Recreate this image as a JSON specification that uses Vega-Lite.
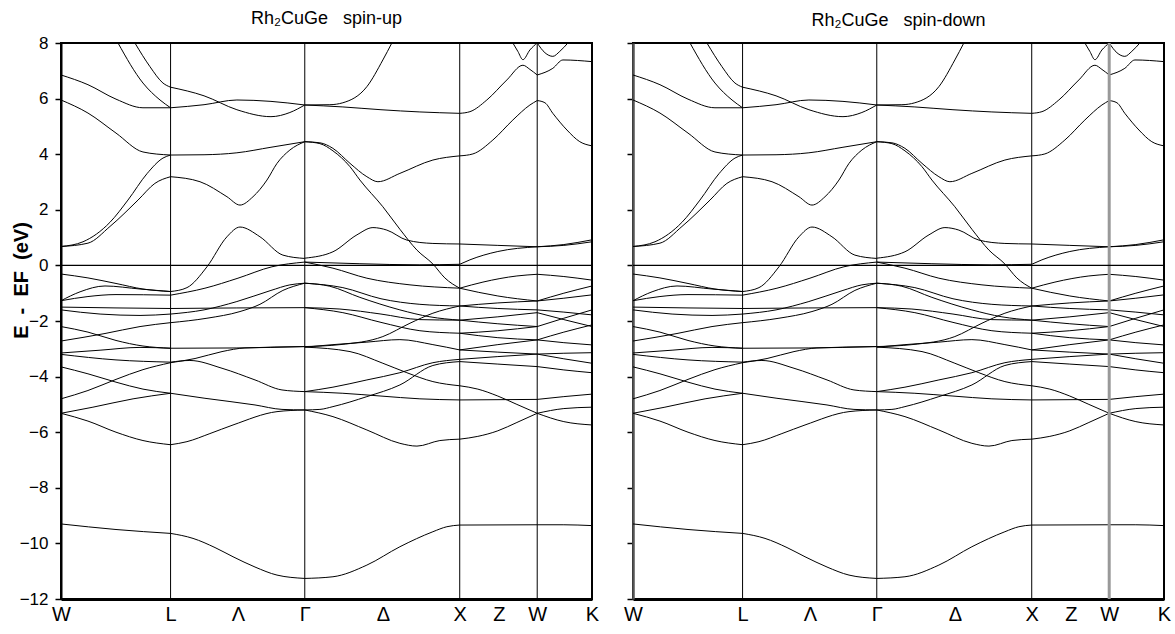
{
"$schema": "https://vega.github.io/schema/vega-lite/v6.json",
"padding": {"left": 10, "top": 9, "right": 5, "bottom": 1},
"spacing": 22,
"config": {"font": "Liberation Sans", "view": {"stroke": "black", "strokeWidth": 2}, "axis": {"domainColor": "black", "tickColor": "black", "labelColor": "black", "titleColor": "black", "grid": false}},
"datasets": {
"sym": [{"k": 0.7071}, {"k": 1.5731}, {"k": 2.5731}, {"k": 3.0731}],
"bands": [
{"band":"a1","k":0,"E":6.85},{"band":"a1","k":0.174,"E":6.5},{"band":"a1","k":0.355,"E":5.98},{"band":"a1","k":0.529,"E":5.67},{"band":"a1","k":0.7071,"E":5.67},
{"band":"a2","k":0,"E":5.95},{"band":"a2","k":0.174,"E":5.48},{"band":"a2","k":0.355,"E":4.76},{"band":"a2","k":0.529,"E":4.08},{"band":"a2","k":0.7071,"E":3.97},
{"band":"a3","k":0.368,"E":8.0},{"band":"a3","k":0.529,"E":6.56},{"band":"a3","k":0.639,"E":5.95},{"band":"a3","k":0.7071,"E":5.67},
{"band":"a4","k":0.477,"E":8.0},{"band":"a4","k":0.574,"E":7.15},{"band":"a4","k":0.658,"E":6.56},{"band":"a4","k":0.7071,"E":6.41},
{"band":"a5","k":0,"E":0.68},{"band":"a5","k":0.142,"E":0.85},{"band":"a5","k":0.316,"E":1.55},{"band":"a5","k":0.432,"E":2.35},{"band":"a5","k":0.555,"E":3.3},{"band":"a5","k":0.658,"E":3.86},{"band":"a5","k":0.7071,"E":3.97},
{"band":"a6","k":0,"E":0.68},{"band":"a6","k":0.174,"E":0.8},{"band":"a6","k":0.316,"E":1.4},{"band":"a6","k":0.497,"E":2.35},{"band":"a6","k":0.606,"E":2.95},{"band":"a6","k":0.7071,"E":3.19},
{"band":"a7","k":0,"E":-0.31},{"band":"a7","k":0.174,"E":-0.45},{"band":"a7","k":0.355,"E":-0.65},{"band":"a7","k":0.529,"E":-0.85},{"band":"a7","k":0.7071,"E":-0.94},
{"band":"a8","k":0,"E":-1.27},{"band":"a8","k":0.123,"E":-0.95},{"band":"a8","k":0.284,"E":-0.74},{"band":"a8","k":0.51,"E":-0.85},{"band":"a8","k":0.7071,"E":-0.94},
{"band":"a9","k":0,"E":-1.27},{"band":"a9","k":0.174,"E":-1.12},{"band":"a9","k":0.355,"E":-1.05},{"band":"a9","k":0.7071,"E":-1.07},
{"band":"a10","k":0,"E":-1.5},{"band":"a10","k":0.355,"E":-1.53},{"band":"a10","k":0.7071,"E":-1.55},
{"band":"a11","k":0,"E":-1.6},{"band":"a11","k":0.252,"E":-1.75},{"band":"a11","k":0.51,"E":-1.8},{"band":"a11","k":0.7071,"E":-1.75},
{"band":"a12","k":0,"E":-2.2},{"band":"a12","k":0.174,"E":-2.4},{"band":"a12","k":0.355,"E":-2.7},{"band":"a12","k":0.529,"E":-2.9},{"band":"a12","k":0.7071,"E":-2.98},
{"band":"a13","k":0,"E":-2.72},{"band":"a13","k":0.284,"E":-2.45},{"band":"a13","k":0.51,"E":-2.2},{"band":"a13","k":0.7071,"E":-2.06},
{"band":"a14","k":0,"E":-3.15},{"band":"a14","k":0.252,"E":-3.05},{"band":"a14","k":0.51,"E":-2.95},{"band":"a14","k":0.7071,"E":-2.98},
{"band":"a15","k":0,"E":-3.2},{"band":"a15","k":0.355,"E":-3.4},{"band":"a15","k":0.7071,"E":-3.48},
{"band":"a16","k":0,"E":-3.65},{"band":"a16","k":0.174,"E":-3.9},{"band":"a16","k":0.355,"E":-4.2},{"band":"a16","k":0.529,"E":-4.45},{"band":"a16","k":0.7071,"E":-4.6},
{"band":"a17","k":0,"E":-4.8},{"band":"a17","k":0.174,"E":-4.5},{"band":"a17","k":0.355,"E":-4.1},{"band":"a17","k":0.529,"E":-3.75},{"band":"a17","k":0.7071,"E":-3.5},
{"band":"a18","k":0,"E":-5.32},{"band":"a18","k":0.206,"E":-5.1},{"band":"a18","k":0.465,"E":-4.8},{"band":"a18","k":0.7071,"E":-4.6},
{"band":"a19","k":0,"E":-5.32},{"band":"a19","k":0.174,"E":-5.6},{"band":"a19","k":0.355,"E":-6.0},{"band":"a19","k":0.529,"E":-6.3},{"band":"a19","k":0.7071,"E":-6.45},
{"band":"a20","k":0,"E":-9.3},{"band":"a20","k":0.355,"E":-9.5},{"band":"a20","k":0.7071,"E":-9.64},
{"band":"b1","k":0.7071,"E":5.67},{"band":"b1","k":0.923,"E":5.78},{"band":"b1","k":1.135,"E":5.95},{"band":"b1","k":1.355,"E":5.9},{"band":"b1","k":1.5731,"E":5.77},
{"band":"b2","k":0.7071,"E":6.41},{"band":"b2","k":0.923,"E":6.1},{"band":"b2","k":1.135,"E":5.6},{"band":"b2","k":1.355,"E":5.35},{"band":"b2","k":1.477,"E":5.5},{"band":"b2","k":1.5731,"E":5.77},
{"band":"b3","k":0.7071,"E":3.97},{"band":"b3","k":0.923,"E":3.98},{"band":"b3","k":1.135,"E":4.05},{"band":"b3","k":1.355,"E":4.25},{"band":"b3","k":1.5731,"E":4.45},
{"band":"b4","k":0.7071,"E":3.19},{"band":"b4","k":0.897,"E":3.01},{"band":"b4","k":1.071,"E":2.47},{"band":"b4","k":1.155,"E":2.17},{"band":"b4","k":1.239,"E":2.47},{"band":"b4","k":1.329,"E":3.07},{"band":"b4","k":1.394,"E":3.67},{"band":"b4","k":1.477,"E":4.15},{"band":"b4","k":1.5731,"E":4.45},
{"band":"b5","k":0.7071,"E":-0.94},{"band":"b5","k":0.813,"E":-0.8},{"band":"b5","k":0.942,"E":-0.05},{"band":"b5","k":1.071,"E":1.03},{"band":"b5","k":1.155,"E":1.38},{"band":"b5","k":1.284,"E":1.03},{"band":"b5","k":1.432,"E":0.37},{"band":"b5","k":1.5731,"E":0.25},
{"band":"b6","k":0.7071,"E":-1.07},{"band":"b6","k":0.929,"E":-0.82},{"band":"b6","k":1.142,"E":-0.46},{"band":"b6","k":1.361,"E":-0.05},{"band":"b6","k":1.5731,"E":0.12},
{"band":"b7","k":0.7071,"E":-1.55},{"band":"b7","k":1.135,"E":-1.53},{"band":"b7","k":1.5731,"E":-1.52},
{"band":"b8","k":0.7071,"E":-1.75},{"band":"b8","k":0.923,"E":-1.6},{"band":"b8","k":1.135,"E":-1.3},{"band":"b8","k":1.355,"E":-0.9},{"band":"b8","k":1.477,"E":-0.7},{"band":"b8","k":1.5731,"E":-0.64},
{"band":"b9","k":0.7071,"E":-2.06},{"band":"b9","k":0.942,"E":-1.9},{"band":"b9","k":1.155,"E":-1.66},{"band":"b9","k":1.284,"E":-1.4},{"band":"b9","k":1.432,"E":-0.9},{"band":"b9","k":1.5731,"E":-0.64},
{"band":"b10","k":0.7071,"E":-2.98},{"band":"b10","k":1.135,"E":-2.97},{"band":"b10","k":1.5731,"E":-2.92},
{"band":"b11","k":0.7071,"E":-3.48},{"band":"b11","k":0.832,"E":-3.42},{"band":"b11","k":1.039,"E":-3.7},{"band":"b11","k":1.252,"E":-4.12},{"band":"b11","k":1.426,"E":-4.48},{"band":"b11","k":1.5731,"E":-4.54},
{"band":"b12","k":0.7071,"E":-3.5},{"band":"b12","k":0.865,"E":-3.35},{"band":"b12","k":1.039,"E":-3.1},{"band":"b12","k":1.187,"E":-2.97},{"band":"b12","k":1.5731,"E":-2.92},
{"band":"b13","k":0.7071,"E":-4.6},{"band":"b13","k":0.929,"E":-4.78},{"band":"b13","k":1.252,"E":-5.02},{"band":"b13","k":1.426,"E":-5.18},{"band":"b13","k":1.5731,"E":-5.2},
{"band":"b14","k":0.7071,"E":-6.45},{"band":"b14","k":0.813,"E":-6.34},{"band":"b14","k":0.961,"E":-6.05},{"band":"b14","k":1.11,"E":-5.74},{"band":"b14","k":1.394,"E":-5.26},{"band":"b14","k":1.5731,"E":-5.2},
{"band":"b15","k":0.7071,"E":-9.64},{"band":"b15","k":0.852,"E":-9.82},{"band":"b15","k":0.994,"E":-10.15},{"band":"b15","k":1.11,"E":-10.48},{"band":"b15","k":1.252,"E":-10.85},{"band":"b15","k":1.394,"E":-11.14},{"band":"b15","k":1.5731,"E":-11.26},
{"band":"c1","k":1.5731,"E":5.77},{"band":"c1","k":1.735,"E":5.78},{"band":"c1","k":1.819,"E":5.85},{"band":"c1","k":1.974,"E":6.43},{"band":"c1","k":2.077,"E":7.39},{"band":"c1","k":2.135,"E":8.0},
{"band":"c2","k":1.5731,"E":5.77},{"band":"c2","k":1.819,"E":5.7},{"band":"c2","k":2.065,"E":5.6},{"band":"c2","k":2.316,"E":5.52},{"band":"c2","k":2.5731,"E":5.47},
{"band":"c3","k":1.5731,"E":4.45},{"band":"c3","k":1.671,"E":4.41},{"band":"c3","k":1.755,"E":4.21},{"band":"c3","k":1.865,"E":3.67},{"band":"c3","k":1.974,"E":3.19},{"band":"c3","k":2.045,"E":3.01},{"band":"c3","k":2.187,"E":3.31},{"band":"c3","k":2.4,"E":3.79},{"band":"c3","k":2.5731,"E":3.94},
{"band":"c4","k":1.5731,"E":4.45},{"band":"c4","k":1.671,"E":4.38},{"band":"c4","k":1.755,"E":4.12},{"band":"c4","k":1.865,"E":3.55},{"band":"c4","k":1.929,"E":3.07},{"band":"c4","k":2.077,"E":2.11},{"band":"c4","k":2.187,"E":1.3},{"band":"c4","k":2.297,"E":0.55},{"band":"c4","k":2.4,"E":0.05},{"band":"c4","k":2.477,"E":-0.45},{"band":"c4","k":2.5731,"E":-0.82},
{"band":"c5","k":1.5731,"E":0.26},{"band":"c5","k":1.755,"E":0.49},{"band":"c5","k":1.91,"E":1.1},{"band":"c5","k":2.013,"E":1.36},{"band":"c5","k":2.103,"E":1.27},{"band":"c5","k":2.232,"E":0.91},{"band":"c5","k":2.4,"E":0.79},{"band":"c5","k":2.5731,"E":0.77},
{"band":"c6","k":1.5731,"E":0.12},{"band":"c6","k":1.929,"E":0.06},{"band":"c6","k":2.316,"E":0.02},{"band":"c6","k":2.5731,"E":0.04},
{"band":"c7","k":1.5731,"E":0.12},{"band":"c7","k":1.755,"E":-0.1},{"band":"c7","k":1.974,"E":-0.46},{"band":"c7","k":2.252,"E":-0.7},{"band":"c7","k":2.5731,"E":-0.82},
{"band":"c8","k":1.5731,"E":-0.64},{"band":"c8","k":1.819,"E":-0.8},{"band":"c8","k":2.065,"E":-1.2},{"band":"c8","k":2.316,"E":-1.4},{"band":"c8","k":2.5731,"E":-1.46},
{"band":"c9","k":1.5731,"E":-0.64},{"band":"c9","k":1.735,"E":-0.75},{"band":"c9","k":1.929,"E":-1.15},{"band":"c9","k":2.187,"E":-1.6},{"band":"c9","k":2.381,"E":-1.85},{"band":"c9","k":2.5731,"E":-1.97},
{"band":"c10","k":1.5731,"E":-1.52},{"band":"c10","k":1.8,"E":-1.57},{"band":"c10","k":2.065,"E":-1.75},{"band":"c10","k":2.316,"E":-1.95},{"band":"c10","k":2.5731,"E":-1.97},
{"band":"c11","k":1.5731,"E":-1.52},{"band":"c11","k":1.819,"E":-1.7},{"band":"c11","k":2.065,"E":-2.05},{"band":"c11","k":2.316,"E":-2.35},{"band":"c11","k":2.5731,"E":-2.44},
{"band":"c12","k":1.5731,"E":-2.92},{"band":"c12","k":1.8,"E":-2.85},{"band":"c12","k":2.077,"E":-2.56},{"band":"c12","k":2.252,"E":-2.08},{"band":"c12","k":2.4,"E":-1.72},{"band":"c12","k":2.5731,"E":-1.46},
{"band":"c13","k":1.5731,"E":-2.94},{"band":"c13","k":1.755,"E":-2.85},{"band":"c13","k":1.974,"E":-2.76},{"band":"c13","k":2.187,"E":-2.67},{"band":"c13","k":2.4,"E":-2.85},{"band":"c13","k":2.5731,"E":-3.04},
{"band":"c14","k":1.5731,"E":-2.94},{"band":"c14","k":1.865,"E":-3.1},{"band":"c14","k":2.077,"E":-3.52},{"band":"c14","k":2.232,"E":-3.86},{"band":"c14","k":2.4,"E":-4.18},{"band":"c14","k":2.5731,"E":-4.33},
{"band":"c15","k":1.5731,"E":-4.54},{"band":"c15","k":1.755,"E":-4.38},{"band":"c15","k":1.974,"E":-4.12},{"band":"c15","k":2.187,"E":-3.86},{"band":"c15","k":2.4,"E":-3.5},{"band":"c15","k":2.5731,"E":-3.38},
{"band":"c16","k":1.5731,"E":-5.2},{"band":"c16","k":1.671,"E":-5.18},{"band":"c16","k":1.755,"E":-5.08},{"band":"c16","k":1.974,"E":-4.72},{"band":"c16","k":2.187,"E":-4.3},{"band":"c16","k":2.4,"E":-3.6},{"band":"c16","k":2.5731,"E":-3.46},
{"band":"c17","k":1.5731,"E":-5.2},{"band":"c17","k":1.755,"E":-5.44},{"band":"c17","k":1.974,"E":-5.92},{"band":"c17","k":2.187,"E":-6.4},{"band":"c17","k":2.297,"E":-6.5},{"band":"c17","k":2.445,"E":-6.3},{"band":"c17","k":2.5731,"E":-6.25},
{"band":"c18","k":1.5731,"E":-4.54},{"band":"c18","k":1.819,"E":-4.6},{"band":"c18","k":2.065,"E":-4.7},{"band":"c18","k":2.316,"E":-4.8},{"band":"c18","k":2.5731,"E":-4.84},
{"band":"c19","k":1.5731,"E":-11.26},{"band":"c19","k":1.755,"E":-11.2},{"band":"c19","k":1.974,"E":-10.78},{"band":"c19","k":2.187,"E":-10.12},{"band":"c19","k":2.4,"E":-9.58},{"band":"c19","k":2.49,"E":-9.4},{"band":"c19","k":2.5731,"E":-9.34},
{"band":"d1","k":2.5731,"E":5.47},{"band":"d1","k":2.639,"E":5.53},{"band":"d1","k":2.748,"E":5.95},{"band":"d1","k":2.877,"E":6.67},{"band":"d1","k":2.981,"E":7.2},{"band":"d1","k":3.026,"E":7.05},{"band":"d1","k":3.0731,"E":6.85},
{"band":"d2","k":2.916,"E":8.0},{"band":"d2","k":2.948,"E":7.7},{"band":"d2","k":2.981,"E":7.4},{"band":"d2","k":3.026,"E":7.75},{"band":"d2","k":3.0731,"E":8.0},
{"band":"d3","k":2.5731,"E":3.94},{"band":"d3","k":2.658,"E":4.01},{"band":"d3","k":2.787,"E":4.51},{"band":"d3","k":2.916,"E":5.23},{"band":"d3","k":3.026,"E":5.77},{"band":"d3","k":3.0731,"E":5.93},
{"band":"d4","k":2.5731,"E":0.77},{"band":"d4","k":2.819,"E":0.72},{"band":"d4","k":3.0731,"E":0.67},
{"band":"d5","k":2.5731,"E":0.04},{"band":"d5","k":2.639,"E":0.2},{"band":"d5","k":2.819,"E":0.5},{"band":"d5","k":3.0731,"E":0.67},
{"band":"d6","k":2.5731,"E":-0.82},{"band":"d6","k":2.723,"E":-0.6},{"band":"d6","k":2.942,"E":-0.38},{"band":"d6","k":3.0731,"E":-0.32},
{"band":"d7","k":2.5731,"E":-0.82},{"band":"d7","k":2.819,"E":-1.1},{"band":"d7","k":3.0731,"E":-1.28},
{"band":"d8","k":2.5731,"E":-1.46},{"band":"d8","k":2.819,"E":-1.35},{"band":"d8","k":3.0731,"E":-1.28},
{"band":"d9","k":2.5731,"E":-1.46},{"band":"d9","k":2.819,"E":-1.55},{"band":"d9","k":3.0731,"E":-1.6},
{"band":"d10","k":2.5731,"E":-1.97},{"band":"d10","k":2.819,"E":-1.85},{"band":"d10","k":3.0731,"E":-1.7},
{"band":"d11","k":2.5731,"E":-1.97},{"band":"d11","k":2.819,"E":-2.1},{"band":"d11","k":3.0731,"E":-2.2},
{"band":"d12","k":2.5731,"E":-2.44},{"band":"d12","k":2.819,"E":-2.35},{"band":"d12","k":3.0731,"E":-2.2},
{"band":"d13","k":2.5731,"E":-2.44},{"band":"d13","k":2.819,"E":-2.6},{"band":"d13","k":3.0731,"E":-2.68},
{"band":"d14","k":2.5731,"E":-3.04},{"band":"d14","k":2.819,"E":-2.85},{"band":"d14","k":3.0731,"E":-2.68},
{"band":"d15","k":2.5731,"E":-3.04},{"band":"d15","k":2.819,"E":-3.12},{"band":"d15","k":3.0731,"E":-3.19},
{"band":"d16","k":2.5731,"E":-3.38},{"band":"d16","k":2.819,"E":-3.28},{"band":"d16","k":3.0731,"E":-3.19},
{"band":"d17","k":2.5731,"E":-3.46},{"band":"d17","k":2.819,"E":-3.55},{"band":"d17","k":3.0731,"E":-3.64},
{"band":"d18","k":2.5731,"E":-4.33},{"band":"d18","k":2.69,"E":-4.45},{"band":"d18","k":2.819,"E":-4.7},{"band":"d18","k":2.942,"E":-5.0},{"band":"d18","k":3.0731,"E":-5.32},
{"band":"d19","k":2.5731,"E":-4.84},{"band":"d19","k":3.0731,"E":-4.82},
{"band":"d20","k":2.5731,"E":-6.25},{"band":"d20","k":2.69,"E":-6.15},{"band":"d20","k":2.819,"E":-5.95},{"band":"d20","k":2.942,"E":-5.65},{"band":"d20","k":3.0731,"E":-5.32},
{"band":"d21","k":2.5731,"E":-9.34},{"band":"d21","k":3.0731,"E":-9.33},
{"band":"e1","k":3.0731,"E":8.0},{"band":"e1","k":3.123,"E":7.65},{"band":"e1","k":3.174,"E":7.52},{"band":"e1","k":3.219,"E":7.7},{"band":"e1","k":3.271,"E":8.0},
{"band":"e2","k":3.0731,"E":6.85},{"band":"e2","k":3.174,"E":7.09},{"band":"e2","k":3.239,"E":7.39},{"band":"e2","k":3.4267,"E":7.33},
{"band":"e3","k":3.0731,"E":5.93},{"band":"e3","k":3.123,"E":5.85},{"band":"e3","k":3.174,"E":5.47},{"band":"e3","k":3.265,"E":4.87},{"band":"e3","k":3.348,"E":4.45},{"band":"e3","k":3.4267,"E":4.3},
{"band":"e4","k":3.0731,"E":0.67},{"band":"e4","k":3.245,"E":0.75},{"band":"e4","k":3.4267,"E":0.92},
{"band":"e5","k":3.0731,"E":0.67},{"band":"e5","k":3.245,"E":0.72},{"band":"e5","k":3.4267,"E":0.85},
{"band":"e6","k":3.0731,"E":-0.32},{"band":"e6","k":3.245,"E":-0.4},{"band":"e6","k":3.4267,"E":-0.53},
{"band":"e7","k":3.0731,"E":-1.28},{"band":"e7","k":3.245,"E":-1.0},{"band":"e7","k":3.4267,"E":-0.74},
{"band":"e8","k":3.0731,"E":-1.28},{"band":"e8","k":3.245,"E":-1.18},{"band":"e8","k":3.4267,"E":-1.06},
{"band":"e9","k":3.0731,"E":-1.6},{"band":"e9","k":3.245,"E":-1.68},{"band":"e9","k":3.4267,"E":-1.78},
{"band":"e10","k":3.0731,"E":-1.7},{"band":"e10","k":3.245,"E":-1.95},{"band":"e10","k":3.4267,"E":-2.2},
{"band":"e11","k":3.0731,"E":-2.2},{"band":"e11","k":3.245,"E":-1.9},{"band":"e11","k":3.4267,"E":-1.6},
{"band":"e12","k":3.0731,"E":-2.68},{"band":"e12","k":3.245,"E":-2.4},{"band":"e12","k":3.4267,"E":-2.14},
{"band":"e13","k":3.0731,"E":-2.68},{"band":"e13","k":3.245,"E":-2.78},{"band":"e13","k":3.4267,"E":-2.86},
{"band":"e14","k":3.0731,"E":-3.19},{"band":"e14","k":3.245,"E":-3.16},{"band":"e14","k":3.4267,"E":-3.14},
{"band":"e15","k":3.0731,"E":-3.19},{"band":"e15","k":3.245,"E":-3.36},{"band":"e15","k":3.4267,"E":-3.52},
{"band":"e16","k":3.0731,"E":-3.64},{"band":"e16","k":3.245,"E":-3.76},{"band":"e16","k":3.4267,"E":-3.86},
{"band":"e17","k":3.0731,"E":-4.82},{"band":"e17","k":3.245,"E":-4.72},{"band":"e17","k":3.4267,"E":-4.63},
{"band":"e18","k":3.0731,"E":-5.32},{"band":"e18","k":3.245,"E":-5.15},{"band":"e18","k":3.4267,"E":-5.1},
{"band":"e19","k":3.0731,"E":-5.32},{"band":"e19","k":3.245,"E":-5.62},{"band":"e19","k":3.4267,"E":-5.74},
{"band":"e20","k":3.0731,"E":-9.33},{"band":"e20","k":3.245,"E":-9.33},{"band":"e20","k":3.4267,"E":-9.36}
]
},
"hconcat": [
{
"width": 531, "height": 556,
"title": {"text": "Rh₂CuGe\u00a0\u00a0\u00a0spin-up", "fontSize": 18, "fontWeight": "normal", "font": "Liberation Sans", "offset": 6},
"layer": [
{"data": {"name": "bands"}, "mark": {"type": "line", "color": "black", "strokeWidth": 1, "interpolate": "monotone", "clip": true},
 "encoding": {
  "x": {"field": "k", "type": "quantitative", "scale": {"domain": [0, 3.4267], "nice": false, "zero": false},
   "axis": {"title": null, "values": [0, 0.7071, 1.142, 1.5731, 2.077, 2.5731, 2.826, 3.0731, 3.4267], "labelExpr": "datum.value < 0.1 ? 'W' : datum.value < 0.8 ? 'L' : datum.value < 1.2 ? 'Λ' : datum.value < 1.6 ? 'Γ' : datum.value < 2.1 ? 'Δ' : datum.value < 2.6 ? 'X' : datum.value < 2.9 ? 'Z' : datum.value < 3.1 ? 'W' : 'K'", "tickSize": 0, "labelPadding": 5, "labelFontSize": 20, "labelFlush": false, "labelOverlap": false, "labelBound": false, "domainWidth": 3}},
  "y": {"field": "E", "type": "quantitative", "scale": {"domain": [-12, 8], "nice": false, "zero": false},
   "axis": {"title": "E\u00a0\u00a0-\u00a0\u00a0EF\u00a0\u00a0(eV)", "titleFontSize": 20, "titleFontWeight": "bold", "titleAngle": -90, "titleX": -40, "titleY": 237, "titleBaseline": "middle", "titleAlign": "center",
    "values": [-12,-11,-10,-9,-8,-7,-6,-5,-4,-3,-2,-1,0,1,2,3,4,5,6,7,8], "labelExpr": "datum.value % 2 === 0 ? datum.label : ''", "labelFontSize": 17, "labelPadding": 7,
    "tickSize": {"condition": {"test": "datum.value % 2 === 0", "value": 6}, "value": 3}, "tickWidth": 1.5, "domainWidth": 2}},
  "detail": {"field": "band"}
 }},
{"data": {"name": "sym"}, "mark": {"type": "rule", "color": "black", "strokeWidth": 1}, "encoding": {"x": {"field": "k", "type": "quantitative"}}},
{"data": {"values": [{"E": 0}]}, "mark": {"type": "rule", "color": "black", "strokeWidth": 1.2}, "encoding": {"y": {"field": "E", "type": "quantitative"}}}
]
},
{
"width": 531, "height": 556,
"title": {"text": "Rh₂CuGe\u00a0\u00a0\u00a0spin-down", "fontSize": 18, "fontWeight": "normal", "font": "Liberation Sans", "offset": 12},
"layer": [
{"data": {"name": "bands"}, "mark": {"type": "line", "color": "black", "strokeWidth": 1, "interpolate": "monotone", "clip": true},
 "encoding": {
  "x": {"field": "k", "type": "quantitative", "scale": {"domain": [0, 3.4267], "nice": false, "zero": false},
   "axis": {"title": null, "values": [0, 0.7071, 1.142, 1.5731, 2.077, 2.5731, 2.826, 3.0731, 3.4267], "labelExpr": "datum.value < 0.1 ? 'W' : datum.value < 0.8 ? 'L' : datum.value < 1.2 ? 'Λ' : datum.value < 1.6 ? 'Γ' : datum.value < 2.1 ? 'Δ' : datum.value < 2.6 ? 'X' : datum.value < 2.9 ? 'Z' : datum.value < 3.1 ? 'W' : 'K'", "tickSize": 0, "labelPadding": 5, "labelFontSize": 20, "labelFlush": false, "labelOverlap": false, "labelBound": false, "domainWidth": 3}},
  "y": {"field": "E", "type": "quantitative", "scale": {"domain": [-12, 8], "nice": false, "zero": false},
   "axis": {"title": null, "values": [-12,-11,-10,-9,-8,-7,-6,-5,-4,-3,-2,-1,0,1,2,3,4,5,6,7,8], "labels": false,
    "tickSize": {"condition": {"test": "datum.value % 2 === 0", "value": 6}, "value": 3}, "tickWidth": 1.5, "domainWidth": 2.5, "domainColor": "#555555"}},
  "detail": {"field": "band"}
 }},
{"data": {"values": [{"k": 0.7071}, {"k": 1.5731}, {"k": 2.5731}]}, "mark": {"type": "rule", "color": "black", "strokeWidth": 1}, "encoding": {"x": {"field": "k", "type": "quantitative"}}},
{"data": {"values": [{"k": 3.0731}]}, "mark": {"type": "rule", "color": "#999999", "strokeWidth": 3}, "encoding": {"x": {"field": "k", "type": "quantitative"}}},
{"data": {"values": [{"E": 0}]}, "mark": {"type": "rule", "color": "black", "strokeWidth": 1.2}, "encoding": {"y": {"field": "E", "type": "quantitative"}}}
]
}
]
}
